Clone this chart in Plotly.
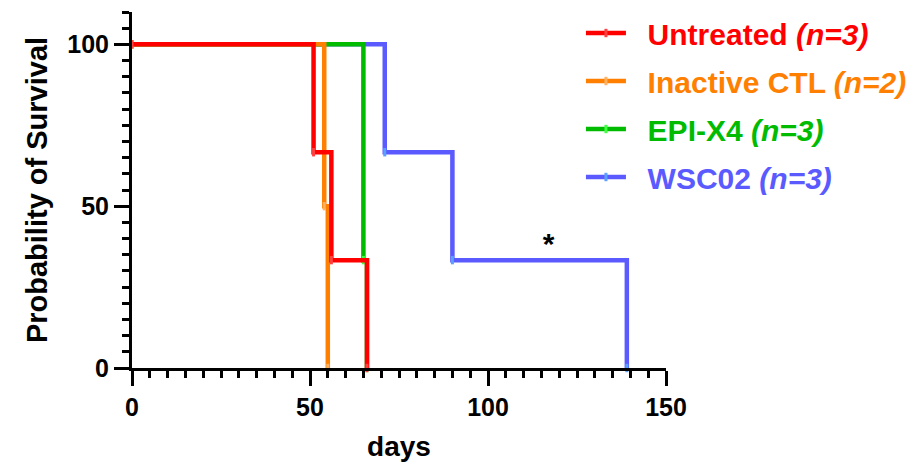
import plotly.graph_objects as go

# ---- data ----
untreated_days = [0, 51, 56, 66]
untreated_surv = [100, 66.67, 33.33, 0]

inactive_days = [0, 54, 55]
inactive_surv = [100, 50, 0]

epi_days = [0, 65, 66]
epi_surv = [100, 33.33, 0]

wsc_days = [0, 71, 90, 139]
wsc_surv = [100, 66.67, 33.33, 0]

series_names = ["Untreated", "Inactive CTL", "EPI-X4", "WSC02"]
series_n = [3, 2, 3, 3]
series_colors = ["#ff0000", "#ff8000", "#00bb00", "#5a5aff"]
marker_colors = ["#ff4040", "#ffb060", "#40ff40", "#5aa0ff"]

x_ticks = [0, 50, 100, 150]
y_ticks = [0, 50, 100]

star_x = [117]
star_y = [37.5]

FONT = "Liberation Sans, Arial, sans-serif"

all_days = [untreated_days, inactive_days, epi_days, wsc_days]
all_surv = [untreated_surv, inactive_surv, epi_surv, wsc_surv]

fig = go.Figure()

# draw order: WSC02 first (bottom) ... Untreated last (top); legend order kept
for i in [3, 2, 1, 0]:
    name_html = (
        f'<span style="color:{series_colors[i]}">&nbsp;&nbsp;{series_names[i]} '
        f'<i>(n={series_n[i]})</i></span>'
    )
    fig.add_trace(go.Scatter(
        x=all_days[i], y=all_surv[i],
        mode="lines+markers",
        line=dict(color=series_colors[i], width=4.5, shape="hv"),
        marker=dict(symbol="line-ns", size=6,
                    line=dict(color=marker_colors[i], width=3)),
        name=name_html,
        legendrank=i + 1,
        legendgroup=series_names[i],
        cliponaxis=False,
    ))

fig.add_trace(go.Scatter(
    x=star_x, y=star_y, mode="text", text=["*"],
    textfont=dict(family=FONT, size=30, color="black", weight="bold"),
    showlegend=False, cliponaxis=False, hoverinfo="skip",
))

axis_common = dict(
    showline=True, linewidth=3, linecolor="black",
    ticks="outside", ticklen=15, tickwidth=3, tickcolor="black",
    showgrid=False, zeroline=False,
    tickfont=dict(family=FONT, size=25, color="black", weight="bold"),
    minor=dict(ticks="outside", ticklen=7, tickwidth=3, tickcolor="black",
               dtick=5, showgrid=False),
)

fig.update_xaxes(
    range=[0, 150], tickvals=x_ticks, title_text="days",
    title_font=dict(family=FONT, size=28, color="black", weight="bold"),
    title_standoff=17, **axis_common,
)
fig.update_yaxes(
    range=[0, 110], tickvals=y_ticks, title_text="Probability of Survival",
    title_font=dict(family=FONT, size=29, color="black", weight="bold"),
    title_standoff=12, **axis_common,
)

fig.update_layout(
    width=912, height=468,
    margin=dict(l=132, r=246, t=12, b=100, autoexpand=False),
    paper_bgcolor="white", plot_bgcolor="white",
    font=dict(family=FONT),
    showlegend=True,
    legend=dict(
        xref="container", yref="container",
        x=0.637, y=0.985, xanchor="left", yanchor="top",
        font=dict(family=FONT, size=30, weight="bold"),
        bgcolor="rgba(0,0,0,0)", tracegroupgap=6,
        itemwidth=40,
    ),
)

fig.write_html("out.html")
